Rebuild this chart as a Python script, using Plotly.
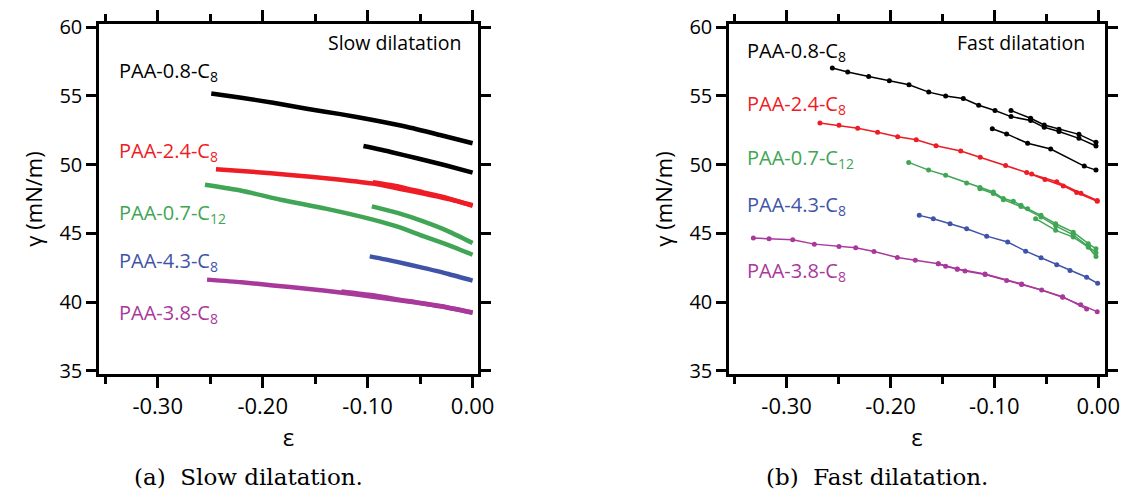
import plotly.graph_objects as go

# ---------------- data: slow dilatation (panel a) ----------------
slow_black_a_x = [-0.249, -0.222, -0.190, -0.158, -0.126, -0.095, -0.063, -0.031, 0.0]
slow_black_a_y = [55.17, 54.88, 54.49, 54.06, 53.67, 53.24, 52.75, 52.15, 51.55]
slow_black_b_x = [-0.104, -0.078, -0.053, -0.026, 0.0]
slow_black_b_y = [51.35, 50.92, 50.46, 49.95, 49.42]
slow_red_a_x = [-0.2445, -0.21, -0.174, -0.135, -0.095, -0.07, -0.047, -0.023, 0.0]
slow_red_a_y = [49.67, 49.48, 49.25, 48.98, 48.62, 48.25, 47.9, 47.5, 47.05]
slow_red_b_x = [-0.095, -0.07, -0.047, -0.023, 0.0]
slow_red_b_y = [48.72, 48.4, 47.98, 47.55, 47.0]
slow_green_a_x = [-0.255, -0.22, -0.183, -0.14, -0.095, -0.07, -0.047, -0.023, 0.0]
slow_green_a_y = [48.53, 48.1, 47.45, 46.8, 46.0, 45.45, 44.8, 44.15, 43.45]
slow_green_b_x = [-0.096, -0.07, -0.047, -0.023, 0.0]
slow_green_b_y = [46.96, 46.45, 45.87, 45.15, 44.3]
slow_blue_x = [-0.098, -0.073, -0.047, -0.023, 0.0]
slow_blue_y = [43.33, 42.95, 42.49, 42.05, 41.57]
slow_mag_a_x = [-0.253, -0.22, -0.19, -0.158, -0.126, -0.095, -0.063, -0.031, 0.0]
slow_mag_a_y = [41.64, 41.45, 41.21, 40.98, 40.7, 40.4, 40.07, 39.7, 39.23]
slow_mag_b_x = [-0.125, -0.095, -0.063, -0.031, 0.0]
slow_mag_b_y = [40.78, 40.5, 40.1, 39.72, 39.25]

# ---------------- data: fast dilatation (panel b) ----------------
fast_black_a_x = [-0.256, -0.2412, -0.221, -0.2011, -0.1822, -0.1632, -0.1469, -0.1299, -0.1151,
                  -0.0994, -0.084, -0.0651, -0.052, -0.0378, -0.0186, -0.0022]
fast_black_a_y = [57.02, 56.73, 56.41, 56.09, 55.80, 55.27, 54.98, 54.80, 54.32,
                  53.93, 53.49, 53.20, 52.71, 52.40, 51.91, 51.35]
fast_black_b_x = [-0.084, -0.0651, -0.052, -0.0378, -0.0186, -0.0022]
fast_black_b_y = [53.93, 53.37, 52.88, 52.57, 52.20, 51.62]
fast_black_c_x = [-0.102, -0.0882, -0.068, -0.0458, -0.0135, -0.0022]
fast_black_c_y = [52.61, 52.23, 51.55, 51.13, 49.89, 49.60]
fast_red_a_x = [-0.2679, -0.2496, -0.2316, -0.2124, -0.1931, -0.1752, -0.1562, -0.1324, -0.1136,
                -0.0892, -0.0689, -0.0513, -0.0337, -0.0208, -0.001]
fast_red_a_y = [53.03, 52.86, 52.64, 52.35, 52.03, 51.81, 51.37, 50.99, 50.53,
                49.94, 49.43, 48.92, 48.45, 47.97, 47.34]
fast_red_b_x = [-0.0641, -0.04, -0.0167, -0.001]
fast_red_b_y = [49.31, 48.75, 47.92, 47.40]
fast_green_a_x = [-0.1825, -0.1633, -0.1469, -0.1267, -0.1139, -0.101, -0.0914, -0.0818, -0.0744,
                  -0.068, -0.0551, -0.041, -0.0241, -0.0096, -0.0022]
fast_green_a_y = [50.16, 49.60, 49.23, 48.67, 48.34, 48.01, 47.53, 47.34, 47.04,
                  46.80, 46.31, 45.70, 45.09, 44.25, 43.88]
fast_green_b_x = [-0.1139, -0.101, -0.0914, -0.0744, -0.0551, -0.041, -0.0241, -0.0096, -0.0022]
fast_green_b_y = [48.25, 47.90, 47.45, 46.95, 46.20, 45.55, 44.90, 44.05, 43.60]
fast_green_c_x = [-0.0603, -0.041, -0.0241, -0.0096, -0.0022]
fast_green_c_y = [46.07, 45.22, 44.73, 44.0, 43.32]
fast_blue_x = [-0.1723, -0.1588, -0.1427, -0.1267, -0.1074, -0.0872, -0.0699, -0.0551, -0.04,
               -0.0272, -0.0112, -0.0006]
fast_blue_y = [46.31, 46.07, 45.70, 45.34, 44.80, 44.37, 43.71, 43.23, 42.72,
               42.30, 41.81, 41.37]
fast_mag_a_x = [-0.332, -0.3169, -0.2941, -0.2733, -0.2496, -0.2335, -0.2159, -0.1934, -0.1761,
                -0.154, -0.1469, -0.1357, -0.1283, -0.109, -0.0882, -0.0738, -0.0545, -0.0343,
                -0.0169, -0.001]
fast_mag_a_y = [44.66, 44.61, 44.54, 44.22, 44.05, 43.96, 43.69, 43.25, 43.05,
                42.79, 42.61, 42.39, 42.27, 42.01, 41.57, 41.28, 40.89, 40.35,
                39.82, 39.31]
fast_mag_b_x = [-0.154, -0.1357, -0.109, -0.0738, -0.0343, -0.0112]
fast_mag_b_y = [42.80, 42.42, 42.05, 41.33, 40.40, 39.50]

labels = ["PAA-0.8-C<sub>8</sub>", "PAA-2.4-C<sub>8</sub>", "PAA-0.7-C<sub>12</sub>",
          "PAA-4.3-C<sub>8</sub>", "PAA-3.8-C<sub>8</sub>"]
x_ticks = [-0.30, -0.20, -0.10, 0.00]
x_ticktext = ["-0.30", "-0.20", "-0.10", "0.00"]
x_minor = [-0.35, -0.25, -0.15, -0.05]
y_ticks = [35, 40, 45, 50, 55, 60]

BLACK = "#000000"
RED = "#ee1c25"
GREEN = "#40a555"
BLUE = "#3f54a8"
MAG = "#a8399b"
colors = [BLACK, RED, GREEN, BLUE, MAG]

FONT = "Open Sans"

fig = go.Figure()

slow = [
    (slow_black_a_x, slow_black_a_y, BLACK), (slow_black_b_x, slow_black_b_y, BLACK),
    (slow_red_a_x, slow_red_a_y, RED), (slow_red_b_x, slow_red_b_y, RED),
    (slow_green_a_x, slow_green_a_y, GREEN), (slow_green_b_x, slow_green_b_y, GREEN),
    (slow_blue_x, slow_blue_y, BLUE),
    (slow_mag_a_x, slow_mag_a_y, MAG), (slow_mag_b_x, slow_mag_b_y, MAG),
]
for xs, ys, c in slow:
    fig.add_trace(go.Scatter(x=xs, y=ys, mode="lines",
                             line=dict(color=c, width=4.5, shape="spline", smoothing=0.6),
                             xaxis="x", yaxis="y", showlegend=False, hoverinfo="skip"))

fast = [
    (fast_black_a_x, fast_black_a_y, BLACK), (fast_black_b_x, fast_black_b_y, BLACK),
    (fast_black_c_x, fast_black_c_y, BLACK),
    (fast_red_a_x, fast_red_a_y, RED), (fast_red_b_x, fast_red_b_y, RED),
    (fast_green_a_x, fast_green_a_y, GREEN), (fast_green_b_x, fast_green_b_y, GREEN),
    (fast_green_c_x, fast_green_c_y, GREEN),
    (fast_blue_x, fast_blue_y, BLUE),
    (fast_mag_a_x, fast_mag_a_y, MAG), (fast_mag_b_x, fast_mag_b_y, MAG),
]
for xs, ys, c in fast:
    fig.add_trace(go.Scatter(x=xs, y=ys, mode="lines+markers", line=dict(color=c, width=1.5),
                             marker=dict(color=c, size=5),
                             xaxis="x2", yaxis="y2", showlegend=False, hoverinfo="skip"))


def xaxis(domain, rng, anchor):
    return dict(domain=domain, range=rng, anchor=anchor, tickvals=x_ticks, ticktext=x_ticktext,
                ticks="outside", ticklen=11, tickwidth=2.5, tickcolor="black",
                showline=True, linewidth=2.5, linecolor="black", mirror="allticks",
                showgrid=False, zeroline=False, automargin=False,
                minor=dict(tickvals=x_minor, ticks="outside", ticklen=7,
                           tickwidth=2.5, tickcolor="black", showgrid=False),
                tickfont=dict(family=FONT, size=22, color="black"),
                title=dict(text="ε", font=dict(family=FONT, size=24, color="black"), standoff=4))


def yaxis(anchor):
    return dict(domain=[0.2383, 0.9511], range=[34.78, 60.22], anchor=anchor, tickvals=y_ticks,
                ticks="outside", ticklen=10, tickwidth=2.5, tickcolor="black",
                showline=True, linewidth=2.5, linecolor="black", mirror="allticks",
                showgrid=False, zeroline=False, automargin=False,
                tickfont=dict(family=FONT, size=20, color="black"),
                title=dict(text="γ (mN/m)", font=dict(family=FONT, size=22, color="black"), standoff=11))


fig.update_layout(
    width=1123, height=491, margin=dict(l=0, r=0, t=0, b=0),
    paper_bgcolor="white", plot_bgcolor="white",
    xaxis=xaxis([0.0882, 0.4256], [-0.3559, 0.0051], "y"),
    yaxis=yaxis("x"),
    xaxis2=xaxis([0.6492, 0.9840], [-0.3554, 0.0065], "y2"),
    yaxis2=yaxis("x2"),
)

ann = []
left_label_y = [56.75, 50.95, 46.45, 42.95, 39.2]
right_label_y = [58.2, 54.35, 50.45, 47.05, 42.2]
for t, c, yy in zip(labels, colors, left_label_y):
    ann.append(dict(x=-0.339, y=yy, xref="x", yref="y", text=t, showarrow=False, xanchor="left",
                    yanchor="middle", font=dict(family=FONT, size=20, color=c)))
for t, c, yy in zip(labels, colors, right_label_y):
    ann.append(dict(x=-0.340, y=yy, xref="x2", yref="y2", text=t, showarrow=False, xanchor="left",
                    yanchor="middle", font=dict(family=FONT, size=20, color=c)))
ann.append(dict(x=-0.009, y=58.9, xref="x", yref="y", text="Slow dilatation", showarrow=False,
                xanchor="right", yanchor="middle", font=dict(family=FONT, size=19.5, color="black")))
ann.append(dict(x=-0.0112, y=58.85, xref="x2", yref="y2", text="Fast dilatation", showarrow=False,
                xanchor="right", yanchor="middle", font=dict(family=FONT, size=19.5, color="black")))
ann.append(dict(x=0.2210, y=0.0285, xref="paper", yref="paper", text="(a)  Slow dilatation.",
                showarrow=False, xanchor="center", yanchor="middle",
                font=dict(family="DejaVu Serif", size=23, color="black")))
ann.append(dict(x=0.7810, y=0.0285, xref="paper", yref="paper", text="(b)  Fast dilatation.",
                showarrow=False, xanchor="center", yanchor="middle",
                font=dict(family="DejaVu Serif", size=23, color="black")))
fig.update_layout(annotations=ann)

fig.write_html(
    "out.html",
    config={"displayModeBar": False},
    post_script="document.body.style.margin='0px';document.body.style.padding='0px';"
                "document.body.style.overflow='hidden';",
)
